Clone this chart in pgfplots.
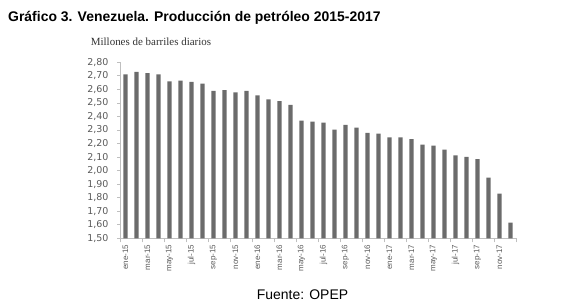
\documentclass[border=0pt]{standalone}
\usepackage{fontspec}
\setmainfont{Liberation Sans}
\newfontfamily\dejavu{DejaVu Sans}
\newfontfamily\libserif{Liberation Serif}
\usepackage{pgfplots}
\pgfplotsset{compat=1.18}
\definecolor{bargray}{HTML}{6B6B6B}
\definecolor{axgray}{HTML}{BFBFBF}
\definecolor{lblgray}{HTML}{5A5A5A}
\begin{document}
\begin{tikzpicture}
\path[use as bounding box] (0,0) rectangle (578bp,306bp);
\begin{axis}[
  at={(120bp,67.7bp)}, anchor=south west,
  scale only axis, width=396bp, height=176bp,
  xmin=0.5, xmax=36.5, ymin=1.5, ymax=2.8,
  axis x line*=bottom, axis y line*=left,
  axis line style={axgray, line width=0.8bp, -},
  tick align=outside,
  tick style={axgray, line width=0.8bp},
  major tick length=3bp, minor tick length=4bp,
  ytick={1.5,1.6,1.7,1.8,1.9,2.0,2.1,2.2,2.3,2.4,2.5,2.6,2.7,2.8},
  xtick={1,3,...,35},
  xticklabels={ene-15,mar-15,may-15,jul-15,sep-15,nov-15,ene-16,mar-16,may-16,jul-16,sep-16,nov-16,ene-17,mar-17,may-17,jul-17,sep-17,nov-17},
  major x tick style={draw=none},
  minor xtick={0.5,2.5,...,36.5},
  xticklabel style={rotate=90, anchor=east, font=\fontsize{8}{8}\selectfont, text=lblgray},
  yticklabel style={font=\dejavu\fontsize{9.5}{10}\selectfont, text=lblgray, xshift=-5bp},
  /pgf/number format/.cd, fixed, fixed zerofill, precision=2, use comma, assume math mode=true,
]
\addplot[ybar, bar width=4.3bp, fill=bargray, draw=none] coordinates {
(1,2.71) (2,2.73) (3,2.72) (4,2.71) (5,2.66) (6,2.665) (7,2.655) (8,2.642)
(9,2.588) (10,2.595) (11,2.578) (12,2.588) (13,2.556) (14,2.527) (15,2.513) (16,2.486)
(17,2.370) (18,2.362) (19,2.354) (20,2.303) (21,2.337) (22,2.318) (23,2.278) (24,2.273)
(25,2.246) (26,2.246) (27,2.232) (28,2.192) (29,2.185) (30,2.155) (31,2.113) (32,2.101)
(33,2.084) (34,1.948) (35,1.830) (36,1.616)
};
\end{axis}
\node[anchor=base west, inner sep=0pt, font=\bfseries\fontsize{14}{16}\selectfont] at (8bp,284bp) {Gráfico 3. Venezuela. Producción de petróleo 2015-2017};
\node[anchor=base west, inner sep=0pt, font=\libserif\fontsize{11}{12}\selectfont, text=black!80] at (90.7bp,260.7bp) {Millones de barriles diarios};
\node[anchor=base west, inner sep=0pt, font=\fontsize{14}{16}\selectfont] at (256.7bp,6.7bp) {Fuente: OPEP};
\end{tikzpicture}
\end{document}
